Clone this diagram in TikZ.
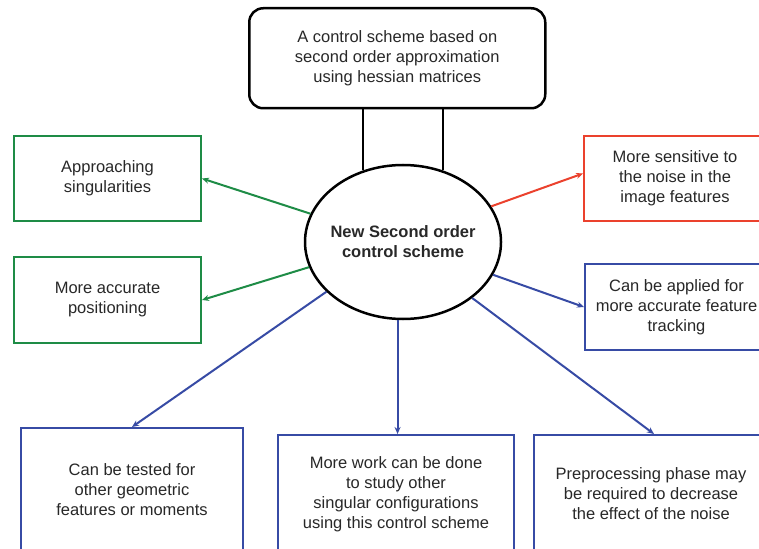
\documentclass[tikz,border=0pt]{standalone}
\usepackage{fontspec}
\setmainfont{Liberation Sans}
\usetikzlibrary{arrows.meta,shapes.geometric}
\definecolor{gline}{RGB}{30,140,70}
\definecolor{rline}{RGB}{235,65,45}
\definecolor{bline}{RGB}{55,75,165}
\definecolor{txt}{RGB}{40,40,40}
\begin{document}
\begin{tikzpicture}[x=1pt,y=-1pt,
  box/.style={draw,line width=2pt,align=center,text=txt,
    font=\fontsize{16.5}{20}\selectfont,inner sep=0pt,anchor=north west},
  gbox/.style={box,draw=gline},
  rbox/.style={box,draw=rline},
  bbox/.style={box,draw=bline},
  arr/.style={line width=2pt,-{Stealth[length=7pt,width=6pt]}},
  garr/.style={arr,draw=gline},
  rarr/.style={arr,draw=rline},
  barr/.style={arr,draw=bline},
  stem/.style={line width=2.2pt,draw=black}]
\useasboundingbox (0,0) rectangle (759,548);
\clip (0,0) rectangle (759,548);
\fill[white] (0,0) rectangle (759,548);

\node[box,draw=black,line width=2.5pt,rounded corners=14pt,minimum width=296pt,minimum height=100pt] (top) at (248,7)
  {A control scheme based on\\second order approximation\\using hessian matrices};
\node[ellipse,draw=black,line width=2.5pt,fill=white,minimum width=196pt,minimum height=154pt,inner sep=-15pt,
  align=center,text=txt,font=\fontsize{16.5}{20}\selectfont\bfseries] (ell) at (403,242)
  {New Second order\\control scheme};

\draw[stem] (ell.119.6 |- top.south) -- (ell.119.6);
\draw[stem] (ell.61.8 |- top.south) -- (ell.61.8);

\node[gbox,minimum width=187pt,minimum height=85pt] (g1) at (13,135) {Approaching\\singularities};
\node[gbox,minimum width=187pt,minimum height=86pt] (g2) at (13,256) {More accurate\\positioning};
\node[rbox,minimum width=182pt,minimum height=85pt] (r1) at (583,135) {More sensitive to\\the noise in the\\image features};
\node[bbox,minimum width=183pt,minimum height=86pt] (b1) at (584,263) {Can be applied for\\more accurate feature\\tracking};
\node[bbox,minimum width=222pt,minimum height=124pt] (bl) at (20,427) {Can be tested for\\other geometric\\features or moments};
\node[bbox,minimum width=236pt,minimum height=118pt] (bm) at (277,434) {More work can be done\\to study other\\singular configurations\\using this control scheme};
\node[bbox,minimum width=234pt,minimum height=118pt] (br) at (533,434) {Preprocessing phase may\\be required to decrease\\the effect of the noise};

\draw[garr] (ell.163) -- (g1.east);
\draw[garr] (ell.195) -- (g2.east);
\draw[rarr] (ell.22) -- ([yshift=5pt]r1.west);
\draw[barr] (ell.340) -- (b1.west);
\draw[barr] (ell.213) -- (bl.north);
\draw[barr] (ell.266) -- (ell.266 |- bm.north);
\draw[barr] (ell.321) -- ([xshift=3pt]br.north);
\end{tikzpicture}
\end{document}
